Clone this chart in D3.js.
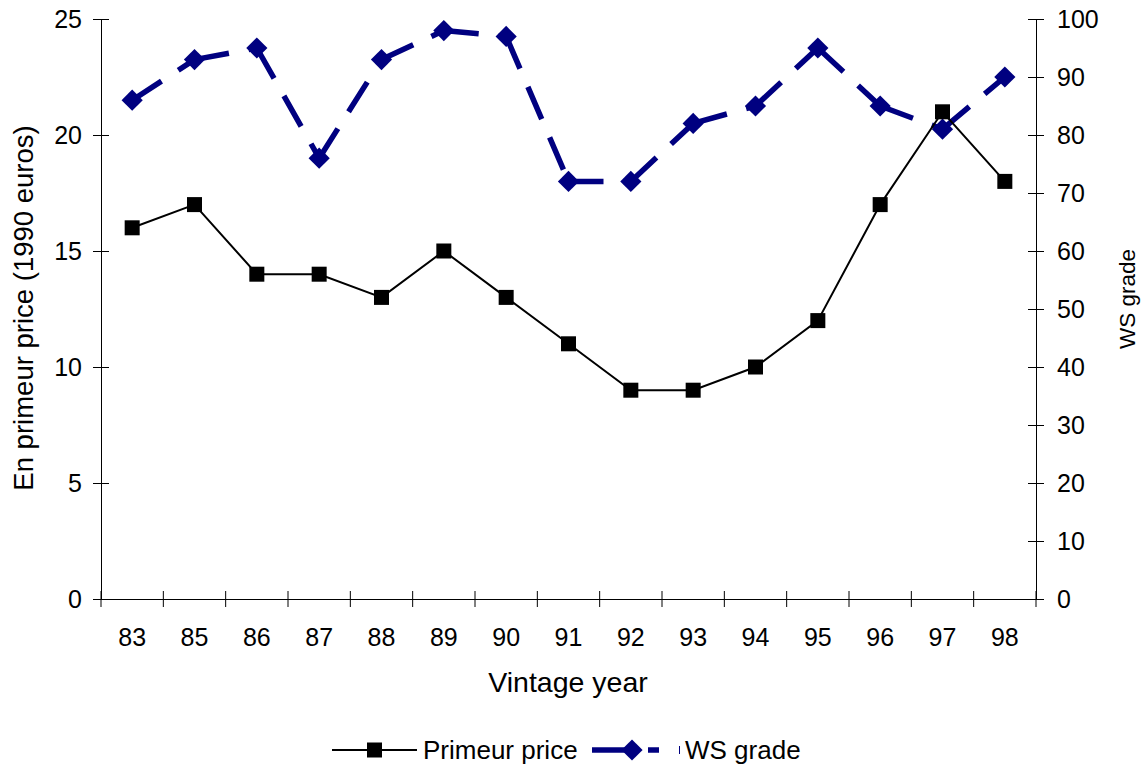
<!DOCTYPE html>
<html>
<head>
<meta charset="utf-8">
<script src="https://cdn.jsdelivr.net/npm/d3@7"></script>
<style>
  html, body { margin: 0; padding: 0; background: #fff; }
  svg { display: block; font-family: "Liberation Sans", Arial, sans-serif; }
</style>
</head>
<body>
<svg id="chart" width="1147" height="771"></svg>
<script>
const vintages = ["83", "85", "86", "87", "88", "89", "90", "91", "92", "93", "94", "95", "96", "97", "98"];
const primeurPrice = [16, 17, 14, 14, 13, 15, 13, 11, 9, 9, 10, 12, 17, 21, 18];
const wsGrade = [86, 93, 95, 76, 93, 98, 97, 72, 72, 82, 85, 95, 85, 81, 90];
const priceTicks = [0, 5, 10, 15, 20, 25];
const gradeTicks = [0, 10, 20, 30, 40, 50, 60, 70, 80, 90, 100];

const svg = d3.select("#chart");
const m = { left: 101, right: 1036, top: 19, bottom: 599 };
const navy = "#000080";
const tickFont = 25;

const x = d3.scaleBand().domain(vintages).range([m.left, m.right]);
const yL = d3.scaleLinear().domain([0, 25]).range([m.bottom, m.top]);
const yR = d3.scaleLinear().domain([0, 100]).range([m.bottom, m.top]);
const cx = d => x(d) + x.bandwidth() / 2;

// Left axis (ticks cross the axis line)
const gL = svg.append("g").attr("transform", `translate(${m.left},0)`)
  .call(d3.axisLeft(yL).tickValues(priceTicks).tickSize(8).tickPadding(11).tickSizeOuter(0));
gL.selectAll(".tick line").attr("x1", 8).attr("x2", -8);
// Right axis
const gR = svg.append("g").attr("transform", `translate(${m.right},0)`)
  .call(d3.axisRight(yR).tickValues(gradeTicks).tickSize(8).tickPadding(13).tickSizeOuter(0));
gR.selectAll(".tick line").attr("x1", -8);
// Bottom axis: category labels centred, ticks on band boundaries
const gB = svg.append("g").attr("transform", `translate(0,${m.bottom})`)
  .call(d3.axisBottom(x).tickSize(0).tickSizeOuter(0));
gB.selectAll(".tick text").attr("y", 47).attr("dy", 0);
const bounds = vintages.map(v => x(v)).concat([m.right]);
gB.selectAll(".bnd").data(bounds).join("line").attr("class", "bnd")
  .attr("x1", d => d).attr("x2", d => d).attr("y1", -8).attr("y2", 8)
  .attr("stroke", "#000").attr("stroke-width", 1);

[gL, gR, gB].forEach(g => {
  g.selectAll("text").attr("font-size", tickFont).attr("fill", "#000")
    .attr("font-family", "'Liberation Sans', Arial, sans-serif");
  g.selectAll(".domain, .tick line").attr("stroke", "#000").attr("stroke-width", 1);
});
gL.selectAll(".tick text").attr("dy", "0.34em");
gR.selectAll(".tick text").attr("dy", "0.34em");

// Axis titles
svg.append("text").attr("x", 568).attr("y", 692).attr("text-anchor", "middle")
  .attr("font-size", 28.5).text("Vintage year");
svg.append("text").attr("transform", "translate(33,308) rotate(-90)")
  .attr("text-anchor", "middle").attr("font-size", 27.5).text("En primeur price (1990 euros)");
svg.append("text").attr("transform", "translate(1135,299) rotate(-90)")
  .attr("text-anchor", "middle").attr("font-size", 22.5).text("WS grade");

// WS grade series: one dashed segment per pair so each dash starts at a marker
const wsPts = wsGrade.map((d, i) => [cx(vintages[i]), yR(d)]);
svg.selectAll(".wsseg").data(d3.pairs(wsPts)).join("line").attr("class", "wsseg")
  .attr("x1", d => d[0][0]).attr("y1", d => d[0][1])
  .attr("x2", d => d[1][0]).attr("y2", d => d[1][1])
  .attr("stroke", navy).attr("stroke-width", 5.5).attr("stroke-dasharray", "35,20");
svg.selectAll(".ws").data(wsGrade).join("path").attr("class", "ws")
  .attr("d", d3.symbol(d3.symbolSquare, 225))
  .attr("transform", (d, i) => `translate(${cx(vintages[i])},${yR(d)}) rotate(45)`)
  .attr("fill", navy);

// Primeur price series
svg.append("path").datum(primeurPrice)
  .attr("fill", "none").attr("stroke", "#000").attr("stroke-width", 2)
  .attr("d", d3.line().x((d, i) => cx(vintages[i])).y(d => yL(d)));
svg.selectAll(".pp").data(primeurPrice).join("rect").attr("class", "pp")
  .attr("x", (d, i) => cx(vintages[i]) - 7.5).attr("y", d => yL(d) - 7.5)
  .attr("width", 15).attr("height", 15).attr("fill", "#000");

// Legend
const lg = svg.append("g").attr("transform", "translate(0,750)");
lg.append("line").attr("x1", 332).attr("x2", 417).attr("stroke", "#000").attr("stroke-width", 2);
lg.append("rect").attr("x", 367).attr("y", -7.5).attr("width", 15).attr("height", 15).attr("fill", "#000");
lg.append("text").attr("x", 423).attr("y", 9).attr("font-size", 26).text("Primeur price");
lg.append("line").attr("x1", 592).attr("x2", 636).attr("stroke", navy).attr("stroke-width", 5.5);
lg.append("line").attr("x1", 648).attr("x2", 659).attr("stroke", navy).attr("stroke-width", 5.5);
lg.append("path").attr("d", d3.symbol(d3.symbolSquare, 225)).attr("transform", "translate(632,0) rotate(45)").attr("fill", navy);
lg.append("line").attr("x1", 679.5).attr("x2", 679.5).attr("y1", -4).attr("y2", 4).attr("stroke", navy).attr("stroke-width", 1);
lg.append("text").attr("x", 685).attr("y", 9).attr("font-size", 26).text("WS grade");
</script>
</body>
</html>
